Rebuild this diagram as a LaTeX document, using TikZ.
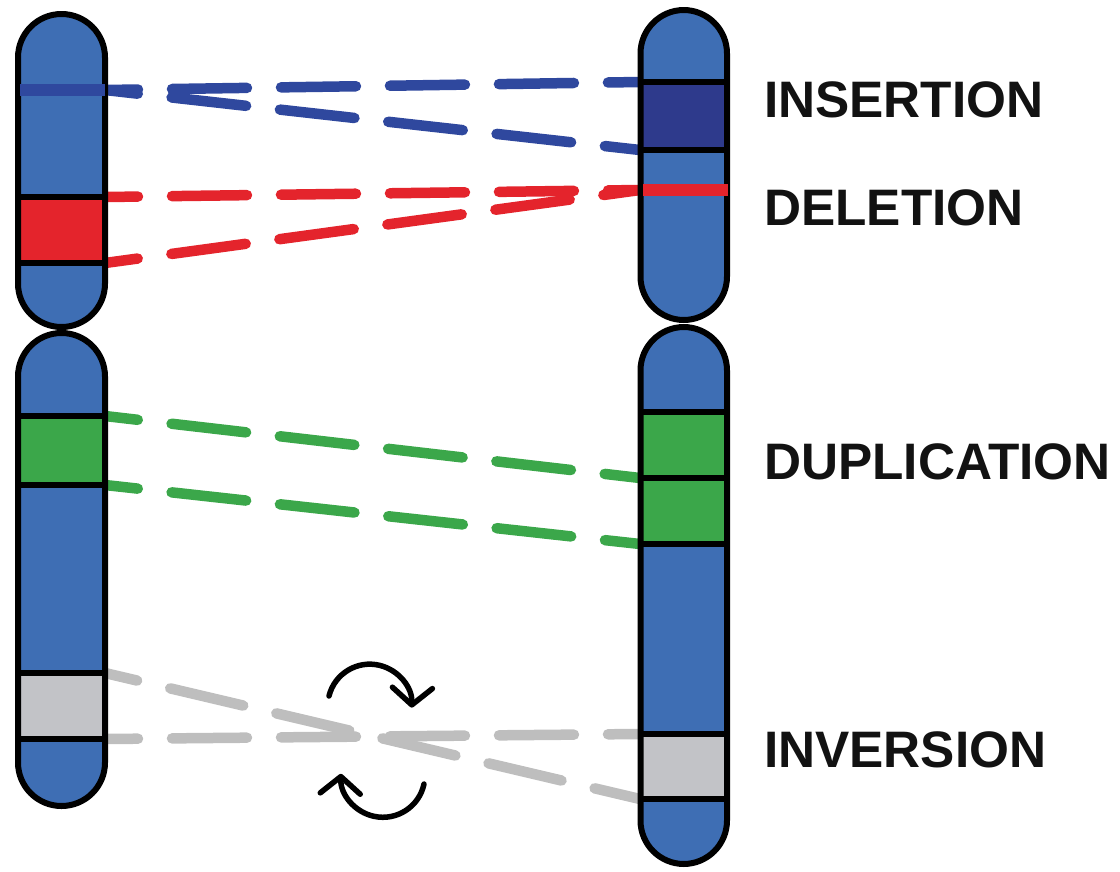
\documentclass[tikz,border=0pt]{standalone}
\usepackage{fontspec}
\setmainfont{Liberation Sans}
\usetikzlibrary{arrows.meta}
\definecolor{chromo}{RGB}{62,110,180}
\definecolor{insband}{RGB}{46,58,140}
\definecolor{insline}{RGB}{47,72,158}
\definecolor{delred}{RGB}{228,36,44}
\definecolor{dupgreen}{RGB}{59,167,74}
\definecolor{invgrey}{RGB}{194,195,199}
\definecolor{invline}{RGB}{190,190,190}
\begin{document}
\begin{tikzpicture}[x=1pt,y=-1pt,
  chromline/.style={draw=black,line width=6pt,rounded corners=43.5pt},
  chromfill/.style={fill=chromo,rounded corners=43.5pt},
  cnvlink/.style={line width=10.5pt,line cap=round,dash pattern=on 75pt off 34pt,dash phase=42pt},
  bandline/.style={line width=6pt},
  tag/.style={anchor=base west,inner sep=0pt,font=\bfseries\fontsize{51.3}{52}\selectfont,text=black!93},
  spinarrow/.style={line width=5.5pt,line cap=round,line join=round,-{Straight Barb[length=17pt,width=40pt,line cap=round,line join=round]}}
]
\useasboundingbox (0,0) rectangle (1120,871);

% attachment points on the two chromosomes
\coordinate (Lins) at (105,90);
\coordinate (Rins1) at (640,82);
\coordinate (Rins2) at (640,150);
\coordinate (Ldel1) at (105,197);
\coordinate (Ldel2) at (105,263);
\coordinate (Rdel) at (640,190);
\coordinate (Ldup1) at (105,416);
\coordinate (Ldup2) at (105,485);
\coordinate (Rdup1) at (640,478);
\coordinate (Rdup2) at (640,544);
\coordinate (Linv1) at (105,673);
\coordinate (Linv2) at (105,739);
\coordinate (Rinv1) at (640,799);
\coordinate (Rinv2) at (640,734);

% dashed links between corresponding regions
\draw[cnvlink,insline] (Lins) -- (Rins1);
\draw[cnvlink,insline] (Lins) -- (Rins2);
\draw[cnvlink,delred] (Ldel1) -- (Rdel);
\draw[cnvlink,delred] (Ldel2) -- (Rdel);
\draw[cnvlink,dupgreen] (Ldup1) -- (Rdup1);
\draw[cnvlink,dupgreen] (Ldup2) -- (Rdup2);
\draw[cnvlink,invline] (Linv1) -- (Rinv1);
\draw[cnvlink,invline] (Linv2) -- (Rinv2);

% chromosome bodies
\path[chromfill] (18,14) rectangle (105,327);
\path[chromfill] (18,333) rectangle (105,806);
\path[chromfill] (640.5,10) rectangle (727,320);
\path[chromfill] (640.5,327) rectangle (727,864);

% coloured bands
\fill[delred] (18,197) rectangle (105,263);
\fill[dupgreen] (18,416) rectangle (105,485);
\fill[invgrey] (18,673) rectangle (105,739);
\fill[insband] (640.5,82) rectangle (727,150);
\fill[dupgreen] (640.5,412) rectangle (727,544);
\fill[invgrey] (640.5,734) rectangle (727,799);

% band borders
\foreach \y in {197,263,416,485,673,739}
  \draw[bandline] (18,\y) -- (105,\y);
\foreach \y in {82,150,412,478,544,734,799}
  \draw[bandline] (640.5,\y) -- (727,\y);

% chromosome outlines
\draw[chromline] (18,14) rectangle (105,327);
\draw[chromline] (18,333) rectangle (105,806);
\draw[chromline] (640.5,10) rectangle (727,320);
\draw[chromline] (640.5,327) rectangle (727,864);

% insertion site and deletion remnant
\draw[insline,line width=12pt] (20,90) -- (Lins);
\draw[delred,line width=12pt] (643,190) -- (728,190);

% rotation arrows of the inversion
\coordinate (spinTop) at (329,696);
\coordinate (spinBot) at (424,784);
\draw[spinarrow] (spinTop) arc[start angle=194,end angle=362,radius=42];
\draw[spinarrow] (spinBot) arc[start angle=12,end angle=182,radius=42];

% labels
\node[tag] (ins) at (764,117) {INSERTION};
\node[tag] (del) at (764,225) {DELETION};
\node[tag] (dup) at (764,479) {DUPLICATION};
\node[tag] (inv) at (764,767) {INVERSION};
\end{tikzpicture}
\end{document}
